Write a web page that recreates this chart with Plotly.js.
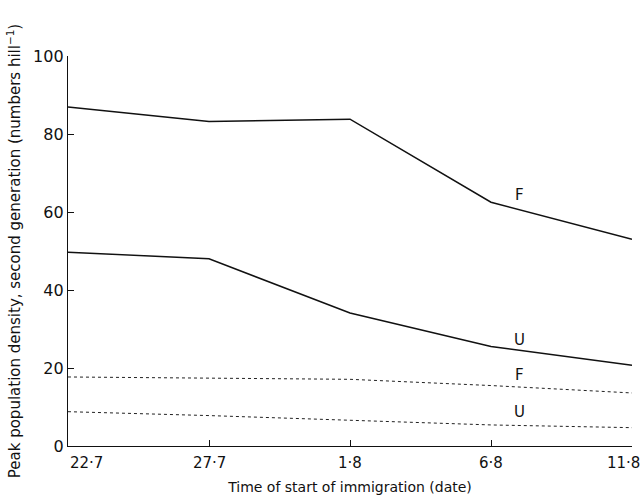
<!DOCTYPE html>
<html>
<head>
<meta charset="utf-8">
<script src="https://cdn.plot.ly/plotly-3.0.1.min.js"></script>
<style>html,body{margin:0;padding:0;background:#fff;}#chart{width:643px;height:499px;}</style>
</head>
<body>
<div id="chart"></div>
<script>
// Days after 22 July
var dayPos = [0, 5, 10, 15, 20];
var dateLabels = ["22·7", "27·7", "1·8", "6·8", "11·8"];
var yTicks = [0, 20, 40, 60, 80, 100];

var solidF = [86.9, 83.2, 83.8, 62.5, 53.0];
var solidU = [49.7, 48.0, 34.1, 25.5, 20.7];
var dottedF = [17.7, 17.4, 17.1, 15.5, 13.6];
var dottedU = [8.8, 7.8, 6.6, 5.4, 4.7];

var labelX = [16, 16, 16, 16];
var labelY = [64.4, 27.2, 18.2, 8.7];
var labelText = ["F", "U", "F", "U"];

var FONT = "DejaVu Sans, sans-serif";

var traces = [
  {x: dayPos, y: solidF, mode: "lines", line: {color: "#111", width: 1.5}},
  {x: dayPos, y: solidU, mode: "lines", line: {color: "#111", width: 1.5}},
  {x: dayPos, y: dottedF, mode: "lines", line: {color: "#222", width: 1, dash: "dot"}},
  {x: dayPos, y: dottedU, mode: "lines", line: {color: "#222", width: 1, dash: "dot"}}
];

var annotations = labelText.map(function (t, i) {
  return {x: labelX[i], y: labelY[i], xref: "x", yref: "y", text: t, showarrow: false,
          font: {family: FONT, size: 15, color: "#111"}};
});
var last = dateLabels.length - 1;
dateLabels.forEach(function (t, i) {
  annotations.push({x: dayPos[i], y: 0, xref: "x", yref: "paper", text: t, showarrow: false,
    xanchor: i === 0 ? "left" : (i === last ? "right" : "center"),
    xshift: i === last ? 10 : 0,
    yanchor: "top", yshift: -6,
    font: {family: FONT, size: 15, color: "#111"}});
});

var layout = {
  width: 643, height: 499,
  margin: {l: 68, r: 11, t: 56, b: 53},
  paper_bgcolor: "#fff", plot_bgcolor: "#fff",
  showlegend: false,
  font: {family: FONT, color: "#111"},
  xaxis: {
    range: [0, 20], tickvals: dayPos, showticklabels: false,
    ticks: "inside", ticklen: 6, tickcolor: "#111", tickwidth: 1,
    showline: true, linecolor: "#111", linewidth: 1.2,
    showgrid: false, zeroline: false,
    title: {text: "Time of start of immigration (date)", font: {family: FONT, size: 14, color: "#111"}, standoff: 36}
  },
  yaxis: {
    range: [0, 100], tickvals: yTicks,
    ticks: "inside", ticklen: 6, tickcolor: "#111", tickwidth: 1,
    showline: true, linecolor: "#111", linewidth: 1.2,
    showgrid: false, zeroline: false,
    tickfont: {family: FONT, size: 16, color: "#111"},
    title: {text: "Peak population density, second generation (numbers hill<sup>−1</sup>)", font: {family: FONT, size: 15, color: "#111"}, standoff: 8}
  },
  annotations: annotations
};

Plotly.newPlot("chart", traces, layout, {displayModeBar: false, staticPlot: true});
</script>
</body>
</html>
